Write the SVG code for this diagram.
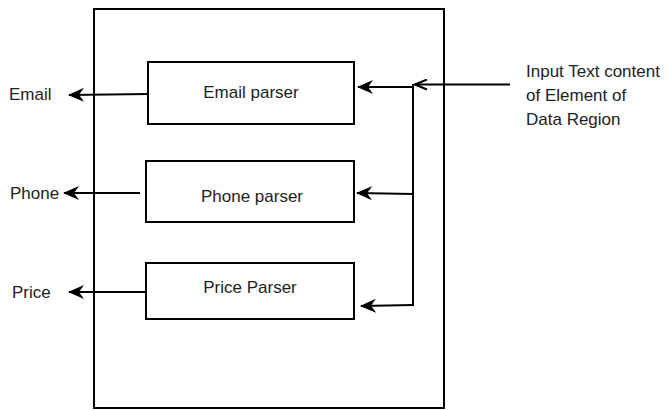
<svg xmlns="http://www.w3.org/2000/svg" width="668" height="410" viewBox="0 0 668 410">
  <style>
    .box { fill: #ffffff; stroke: #000000; stroke-width: 2; }
    .line { fill: none; stroke: #000000; stroke-width: 2; }
    .txt { font-family: "Liberation Sans", Arial, sans-serif; font-size: 17px; fill: #222222; }
    .mid { text-anchor: middle; }
  </style>
  <defs>
    <!-- filled arrowhead, tip at the end of the line -->
    <marker id="arrow" viewBox="0 0 16 14" refX="15" refY="7" markerWidth="16" markerHeight="14" markerUnits="userSpaceOnUse" orient="auto">
      <path d="M0,0 L16,7 L0,14 L5,7 Z" fill="#000000"/>
    </marker>
    <!-- open V arrowhead -->
    <marker id="open" viewBox="0 0 14 12" refX="13" refY="6" markerWidth="14" markerHeight="12" markerUnits="userSpaceOnUse" orient="auto">
      <path d="M1,1 L13,6 L1,11" fill="none" stroke="#000000" stroke-width="2"/>
    </marker>
  </defs>

  <!-- container -->
  <g id="container">
    <rect class="box" x="94" y="9" width="350" height="399"/>
  </g>

  <!-- parsers -->
  <g id="email-parser">
    <rect class="box" x="148" y="62" width="206" height="62"/>
    <text class="txt mid" x="251" y="98">Email parser</text>
  </g>
  <g id="phone-parser">
    <rect class="box" x="146" y="161" width="208" height="61"/>
    <text class="txt mid" x="252" y="202">Phone parser</text>
  </g>
  <g id="price-parser">
    <rect class="box" x="146" y="263" width="208" height="56"/>
    <text class="txt mid" x="250" y="293">Price Parser</text>
  </g>

  <!-- outputs and input -->
  <g id="email-out">
    <text class="txt" x="9" y="100">Email</text>
  </g>
  <g id="phone-out">
    <text class="txt" x="10" y="199">Phone</text>
  </g>
  <g id="price-out">
    <text class="txt" x="12" y="298">Price</text>
  </g>
  <g id="input">
    <text class="txt" x="526" y="77">Input Text content</text>
    <text class="txt" x="526" y="101">of Element of</text>
    <text class="txt" x="526" y="125">Data Region</text>
  </g>

  <!-- connectors -->
  <g id="connectors">
    <line class="line" x1="510" y1="84.5" x2="415" y2="84.5" marker-end="url(#open)"/>
    <line class="line" x1="413" y1="84" x2="413" y2="306"/>
    <line class="line" x1="413" y1="87" x2="358" y2="87" marker-end="url(#arrow)"/>
    <line class="line" x1="413" y1="194" x2="357" y2="193" marker-end="url(#arrow)"/>
    <line class="line" x1="413" y1="305" x2="361" y2="306" marker-end="url(#arrow)"/>
    <line class="line" x1="148" y1="94" x2="69" y2="95" marker-end="url(#arrow)"/>
    <line class="line" x1="140" y1="193" x2="64" y2="193" marker-end="url(#arrow)"/>
    <line class="line" x1="146" y1="292" x2="69" y2="292" marker-end="url(#arrow)"/>
  </g>
</svg>
